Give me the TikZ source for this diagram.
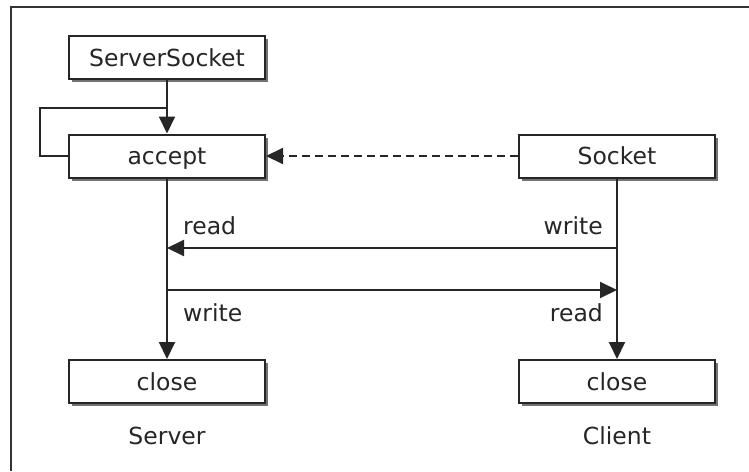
\documentclass[tikz,border=0pt]{standalone}
\usepackage{fontspec}
\setmainfont{DejaVu Sans}
\usetikzlibrary{arrows.meta,shadows}
\begin{document}
\begin{tikzpicture}[x=1pt,y=-1pt,
  txt/.style={font=\fontsize{23.5}{27}\selectfont, text=black!85, inner sep=0pt,
    text height=17pt, text depth=0pt},
  box/.style={txt, draw=black!85, line width=2pt, fill=white,
    minimum width=196pt, minimum height=43pt,
    drop shadow={shadow xshift=3pt, shadow yshift=-3pt, fill=black!55, opacity=1}},
  conn/.style={line width=2pt, draw=black!85},
  tip/.style={-{Triangle[length=17pt,width=16pt]}}
]
\useasboundingbox (0,0) rectangle (749,471);
\fill[white] (0,0) rectangle (749,471);

% open frame: only top and left edges are inside the page
\coordinate (fa) at (11,471);
\coordinate (fb) at (11,7);
\coordinate (fc) at (749,7);
\draw[line width=2pt, black!80] (fa) -- (fb) -- (fc);

% server side
\node[box] (ss) at (167,57.5) {ServerSocket};
\node[box] (acc) at (167,156) {accept};
\node[box] (sclose) at (167,381.5) {close};
\node[txt] (srv) at (167,436) {Server};

% client side
\node[box] (sock) at (617,156) {Socket};
\node[box] (cclose) at (617,381.5) {close};
\node[txt] (cli) at (617,436) {Client};

% accept loop
\coordinate (loopa) at (40,108);
\coordinate (loopb) at (167,108);
\draw[conn] (acc.west) -| (loopa) -- (loopb);

\draw[conn,tip] (ss) -- (acc);
\draw[conn,tip,dash pattern=on 8pt off 5pt] (sock) -- (acc);
\draw[conn,tip] (acc) -- (sclose);
\draw[conn,tip] (sock) -- (cclose);

% data exchange
\coordinate (srd) at (167,248);
\coordinate (cwr) at (617,248);
\coordinate (swr) at (167,290);
\coordinate (crd) at (617,290);
\draw[conn,tip] (cwr) -- (srd);
\draw[conn,tip] (swr) -- (crd);

\node[txt, anchor=west] (l1) at (183,226) {read};
\node[txt, anchor=east] (l2) at (603,226) {write};
\node[txt, anchor=west] (l3) at (183,313) {write};
\node[txt, anchor=east] (l4) at (603,313) {read};
\end{tikzpicture}
\end{document}
